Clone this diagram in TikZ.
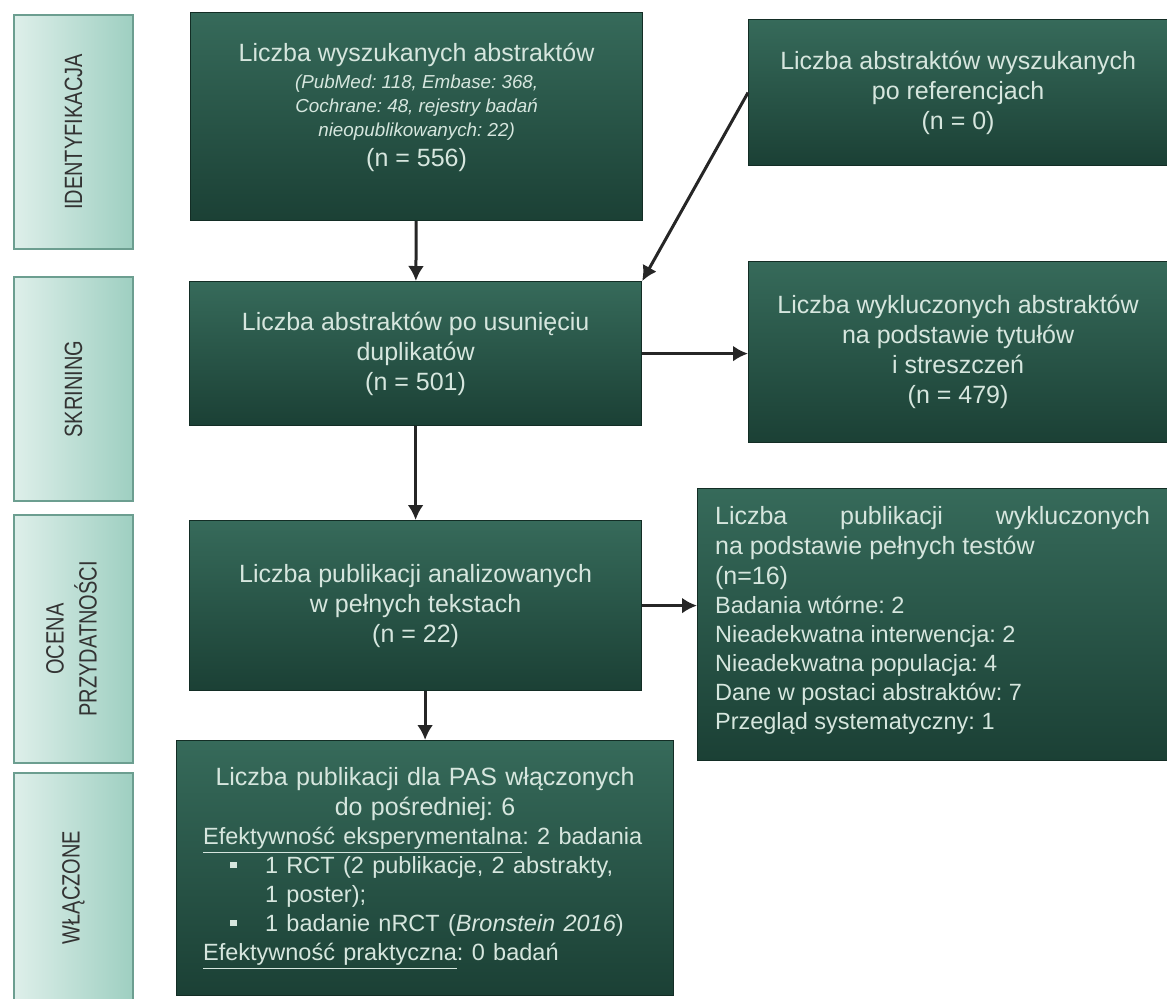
\documentclass[tikz,border=0pt]{standalone}
\usepackage{fontspec}
\setmainfont{Liberation Sans}
\newfontfamily\narrowfont[FakeStretch=0.8]{Liberation Sans}
\usetikzlibrary{positioning, arrows.meta}
\definecolor{BoxTop}{RGB}{54,106,90}
\definecolor{BoxBottom}{RGB}{27,64,53}
\definecolor{BoxText}{RGB}{214,230,222}
\definecolor{StageLight}{RGB}{222,239,234}
\definecolor{StageDark}{RGB}{158,207,193}
\definecolor{StageEdge}{RGB}{108,158,144}
\newcommand{\srcfont}{\fontsize{9.4}{12}\selectfont\itshape}
\newcommand{\itemfont}{\fontsize{11.75}{14.5}\selectfont}
\newcommand{\sqbullet}{\hspace*{13.5pt}\makebox[17.5pt][l]{\rule[2.5pt]{3.2pt}{3.2pt}}}
\frenchspacing

\begin{document}
\begin{tikzpicture}[x=0.5pt, y=-0.5pt, >={Latex[length=7.5pt, width=8pt]},
  stagebox/.style={draw=StageEdge, line width=1pt, left color=StageLight, right color=StageDark,
    minimum width=59.5pt, inner sep=0pt, text=black!80,
    font=\narrowfont\fontsize{12.5}{16.5}\selectfont},
  flowbox/.style={draw=BoxBottom!70!black, line width=0.6pt, top color=BoxTop, bottom color=BoxBottom,
    anchor=north west, inner sep=0pt, text=BoxText, font=\fontsize{12.5}{15}\selectfont},
  flowline/.style={->, line width=1.5pt, draw=black!85}]
  \useasboundingbox (0,0) rectangle (1167,998);

  % stage labels on the left
  \node[stagebox, anchor=north west, minimum height=117pt] (ident) at (13,14) {\rotatebox{90}{IDENTYFIKACJA}};
  \node[stagebox, minimum height=112pt, below=13pt of ident] (skrin) {\rotatebox{90}{SKRINING}};
  \node[stagebox, minimum height=124pt, below=6pt of skrin] (ocena) {\rotatebox{90}{\begin{tabular}{@{}c@{}}OCENA\\PRZYDATNOŚCI\end{tabular}}};
  \node[stagebox, minimum height=114.5pt, below=4pt of ocena] (wlacz) {\rotatebox{90}{WŁĄCZONE}};

  % flow boxes
  \node[flowbox, minimum width=226pt, minimum height=104pt, align=center] (search) at (190,12)
    {Liczba wyszukanych abstraktów\\[-1.5pt]
     {\srcfont (PubMed: 118, Embase: 368,}\\[-3pt]
     {\srcfont Cochrane: 48, rejestry badań}\\[-3pt]
     {\srcfont nieopublikowanych: 22)}\\
     (n = 556)\\[-3pt]\mbox{}};
  \node[flowbox, minimum width=209.5pt, minimum height=73pt, align=center] (refs) at (748,19)
    {Liczba abstraktów wyszukanych\\ po referencjach\\ (n = 0)};
  \node[flowbox, minimum width=226pt, minimum height=72pt, align=center] (dedup) at (189,281)
    {Liczba abstraktów po usunięciu\\ duplikatów\\ (n = 501)};
  \node[flowbox, minimum width=209.5pt, minimum height=90.5pt, align=center] (excl) at (748,261)
    {Liczba wykluczonych abstraktów\\ na podstawie tytułów\\ i streszczeń\\ (n = 479)};
  \node[flowbox, minimum width=226pt, minimum height=85pt, align=center] (fulltxt) at (189,520)
    {Liczba publikacji analizowanych\\ w pełnych tekstach\\ (n = 22)};
  \node[flowbox, minimum width=235pt, minimum height=136pt, text width=217.5pt, align=justify] (exclfull) at (697,488)
    {Liczba publikacji wykluczonych\linebreak na podstawie pełnych testów\par
     (n=16)\par
     {\itemfont Badania wtórne: 2\par
     Nieadekwatna interwencja: 2\par
     Nieadekwatna populacja: 4\par
     Dane w postaci abstraktów: 7\par
     Przegląd systematyczny: 1\par}\vspace{4pt}};
  \node[flowbox, minimum width=248.5pt, minimum height=127.5pt, text width=222pt] (incl) at (176,740)
    {{\centering Liczba publikacji dla PAS włączonych\\ do pośredniej: 6\par}
     {\itemfont\raggedright
     \underline{Efektywność eksperymentalna}: 2 badania\\
     \sqbullet 1 RCT (2 publikacje, 2 abstrakty,\\
     \hspace*{31pt}1 poster);\\
     \sqbullet 1 badanie nRCT (\textit{Bronstein 2016})\\
     \underline{Efektywność praktyczna}: 0 badań\par}};

  % connectors
  \draw[flowline] (search) -- (dedup);
  \draw[flowline] (refs.west) -- (dedup.north east);
  \draw[flowline] (dedup.east) -- (dedup.east -| excl.west);
  \draw[flowline] (dedup) -- (fulltxt);
  \draw[flowline] (fulltxt.east) -- (fulltxt.east -| exclfull.west);
  \draw[flowline] (fulltxt.south -| incl.north) -- (incl.north);
\end{tikzpicture}
\end{document}
